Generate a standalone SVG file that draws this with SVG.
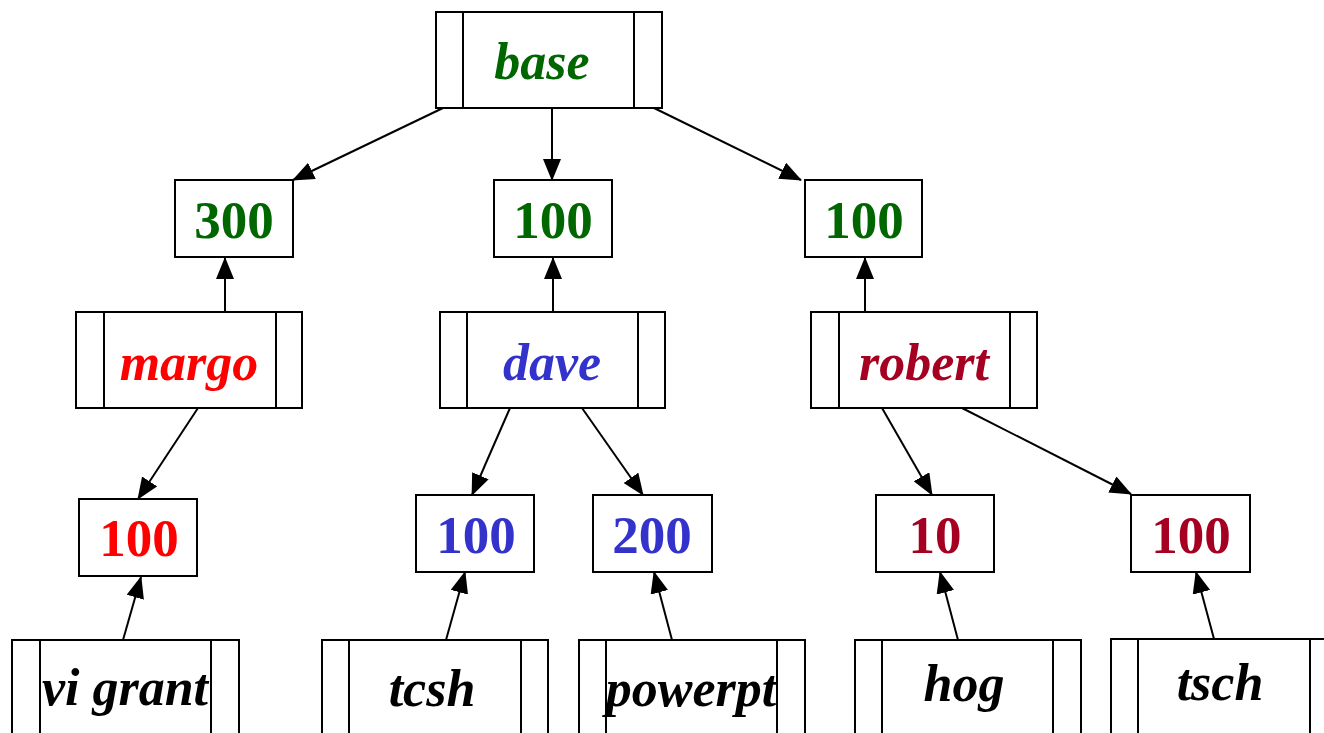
<svg xmlns="http://www.w3.org/2000/svg" width="1324" height="733" viewBox="0 0 1324 733">
<style>
.box{fill:#fff;stroke:#000;stroke-width:2}
.sep{stroke:#000;stroke-width:2;fill:none}
.name{font-family:"Liberation Serif","Times New Roman",serif;font-weight:bold;font-style:italic;font-size:52px;text-anchor:middle}
.num{font-family:"Liberation Serif","Times New Roman",serif;font-weight:bold;font-size:53px;text-anchor:middle}
.g{fill:#006600}.r{fill:#ff0000}.b{fill:#3333cc}.c{fill:#a50021}.k{fill:#000}
.edge{stroke:#000;stroke-width:2;fill:none;marker-end:url(#ah)}
</style>
<defs>
<marker id="ah" markerUnits="userSpaceOnUse" markerWidth="22" markerHeight="18" viewBox="0 0 22 18" refX="21" refY="9" orient="auto">
<path d="M0,0 L22,9 L0,18 Z" fill="#000"/>
</marker>
</defs>
<rect width="1324" height="733" fill="#fff"/>
<g id="connectors">
<line class="edge" x1="443" y1="108" x2="293" y2="180"/>
<line class="edge" x1="552" y1="108" x2="552" y2="180"/>
<line class="edge" x1="654" y1="108" x2="801" y2="180"/>
<line class="edge" x1="225" y1="312" x2="225" y2="258"/>
<line class="edge" x1="553" y1="312" x2="553" y2="258"/>
<line class="edge" x1="865" y1="312" x2="865" y2="258"/>
<line class="edge" x1="198" y1="408" x2="138" y2="499"/>
<line class="edge" x1="510" y1="408" x2="472" y2="495"/>
<line class="edge" x1="582" y1="408" x2="643" y2="495"/>
<line class="edge" x1="882" y1="408" x2="932" y2="495"/>
<line class="edge" x1="962" y1="408" x2="1131" y2="494"/>
<line class="edge" x1="123" y1="640" x2="141" y2="577"/>
<line class="edge" x1="446" y1="640" x2="465" y2="572"/>
<line class="edge" x1="672" y1="640" x2="654" y2="572"/>
<line class="edge" x1="958" y1="640" x2="940" y2="572"/>
<line class="edge" x1="1214" y1="639" x2="1196" y2="572"/>
</g>
<g id="base">
<rect class="box" x="436" y="12" width="226" height="96"/>
<line class="sep" x1="463" y1="12" x2="463" y2="108"/><line class="sep" x1="634" y1="12" x2="634" y2="108"/>
<text class="name g" x="542" y="79">base</text>
</g>
<g id="n300">
<rect class="box" x="175" y="180" width="118" height="77"/>
<text class="num g" x="234" y="238">300</text>
</g>
<g id="n100a">
<rect class="box" x="494" y="180" width="118" height="77"/>
<text class="num g" x="553" y="238">100</text>
</g>
<g id="n100b">
<rect class="box" x="805" y="180" width="117" height="77"/>
<text class="num g" x="864" y="238">100</text>
</g>
<g id="margo">
<rect class="box" x="76" y="312" width="226" height="96"/>
<line class="sep" x1="104" y1="312" x2="104" y2="408"/><line class="sep" x1="276" y1="312" x2="276" y2="408"/>
<text class="name r" x="189" y="380">margo</text>
</g>
<g id="dave">
<rect class="box" x="440" y="312" width="225" height="96"/>
<line class="sep" x1="467" y1="312" x2="467" y2="408"/><line class="sep" x1="638" y1="312" x2="638" y2="408"/>
<text class="name b" x="552" y="380">dave</text>
</g>
<g id="robert">
<rect class="box" x="811" y="312" width="226" height="96"/>
<line class="sep" x1="839" y1="312" x2="839" y2="408"/><line class="sep" x1="1010" y1="312" x2="1010" y2="408"/>
<text class="name c" x="924" y="380">robert</text>
</g>
<g id="m100">
<rect class="box" x="79" y="499" width="118" height="77"/>
<text class="num r" x="139" y="556">100</text>
</g>
<g id="d100">
<rect class="box" x="416" y="495" width="118" height="77"/>
<text class="num b" x="476" y="553">100</text>
</g>
<g id="d200">
<rect class="box" x="593" y="495" width="119" height="77"/>
<text class="num b" x="652" y="553">200</text>
</g>
<g id="r10">
<rect class="box" x="876" y="495" width="118" height="77"/>
<text class="num c" x="935" y="553">10</text>
</g>
<g id="r100">
<rect class="box" x="1131" y="495" width="119" height="77"/>
<text class="num c" x="1191" y="553">100</text>
</g>
<g id="vigrant">
<rect class="box" x="12" y="640" width="227" height="100"/>
<line class="sep" x1="40" y1="640" x2="40" y2="740"/><line class="sep" x1="211" y1="640" x2="211" y2="740"/>
<text class="name k" x="125" y="705">vi grant</text>
</g>
<g id="tcsh">
<rect class="box" x="322" y="640" width="226" height="100"/>
<line class="sep" x1="349" y1="640" x2="349" y2="740"/><line class="sep" x1="521" y1="640" x2="521" y2="740"/>
<text class="name k" x="432" y="706">tcsh</text>
</g>
<g id="powerpt">
<rect class="box" x="579" y="640" width="226" height="100"/>
<line class="sep" x1="606" y1="640" x2="606" y2="740"/><line class="sep" x1="777" y1="640" x2="777" y2="740"/>
<text class="name k" x="691" y="706">powerpt</text>
</g>
<g id="hog">
<rect class="box" x="855" y="640" width="226" height="100"/>
<line class="sep" x1="882" y1="640" x2="882" y2="740"/><line class="sep" x1="1053" y1="640" x2="1053" y2="740"/>
<text class="name k" x="964" y="701">hog</text>
</g>
<g id="tsch">
<rect class="box" x="1111" y="639" width="226" height="100"/>
<line class="sep" x1="1138" y1="639" x2="1138" y2="739"/><line class="sep" x1="1310" y1="639" x2="1310" y2="739"/>
<text class="name k" x="1220" y="700">tsch</text>
</g>
</svg>
